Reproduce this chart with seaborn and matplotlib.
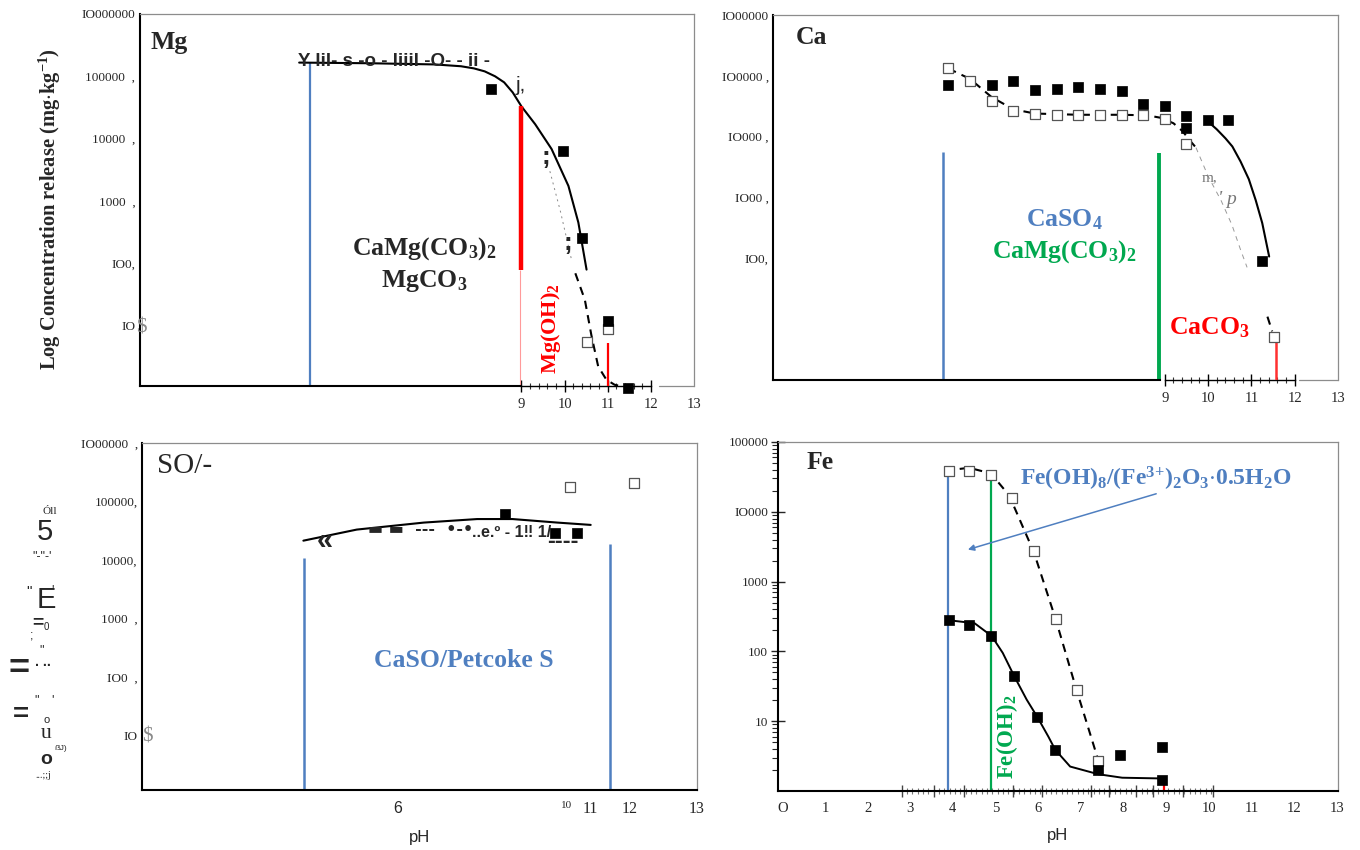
import matplotlib
matplotlib.use("Agg")
import matplotlib.pyplot as plt
import seaborn as sns
from matplotlib.ticker import FixedLocator, NullLocator, LogLocator, NullFormatter

sns.set_style("white")
plt.rcParams['font.family'] = ['Liberation Serif', 'DejaVu Serif']
plt.rcParams['mathtext.fontset'] = 'custom'
plt.rcParams['mathtext.rm'] = 'Liberation Serif'
plt.rcParams['mathtext.bf'] = 'Liberation Serif:bold'
plt.rcParams['mathtext.default'] = 'regular'

BLUE = '#4f7fc0'
GREEN = '#00a84f'
RED = '#ff0000'
GRAYLINE = '#8c8c8c'

# ------------------------------------------------------------------ data
# Mg
mg_filled_ph = [8.30, 9.97, 10.41, 11.0, 11.47]
mg_filled_c = [62000, 6300, 250, 12, 1.0]
mg_open_ph = [10.51, 11.0]
mg_open_c = [5.5, 8.8]
mg_fit_ph = [3.85, 5.5, 7.0, 7.6, 7.9, 8.15, 8.39, 8.6, 8.8, 9.0, 9.32, 9.70, 10.09, 10.32, 10.51]
mg_fit_c = [166000, 162000, 155000, 145000, 134000, 120000, 100000, 80000, 55000, 33000, 17000, 6800, 1740, 450, 79]
mg_dash_ph = [10.25, 10.47, 10.62, 10.78, 10.97, 11.16, 11.35]
mg_dash_c = [69, 26, 7.1, 2.2, 1.35, 1.12, 1.05]
mg_gray_ph = [9.66, 9.9, 10.16]
mg_gray_c = [3000, 700, 115]
mg_blue_line = (4.10, 162000)
mg_red_thick = (9.0, 79, 33000)
mg_red_thin = (11.0, 1.0, 5.2)

# Ca
ca_filled_ph = [4.0, 5.0, 5.5, 6.0, 6.5, 7.0, 7.5, 8.0, 8.5, 9.0, 9.5, 9.5, 10.0, 10.45, 11.25]
ca_filled_c = [72000, 71000, 83000, 59000, 60000, 65000, 60000, 56000, 34000, 32000, 22000, 14000, 18600, 18600, 89]
ca_open_ph = [4.0, 4.5, 5.0, 5.5, 6.0, 6.5, 7.0, 7.5, 8.0, 8.5, 9.0, 9.5, 11.52]
ca_open_c = [132000, 83000, 39000, 26300, 23400, 22900, 22900, 22900, 22900, 22900, 19500, 7600, 5.0]
ca_dash_ph = [4.0, 4.5, 5.0, 5.5, 6.0, 7.0, 8.0, 8.6, 8.91, 9.2, 9.41, 9.6, 9.72]
ca_dash_c = [132000, 89000, 44700, 28200, 24000, 22900, 22900, 22400, 20400, 16600, 12300, 8300, 6600]
ca_gray_ph = [9.72, 10.0, 10.3, 10.55, 10.75, 10.9]
ca_gray_c = [6600, 2240, 890, 355, 138, 71]
ca_dash2_ph = [11.37, 11.48]
ca_dash2_c = [11.0, 6.3]
ca_fit_ph = [9.98, 10.2, 10.4, 10.56, 10.75, 10.94, 11.1, 11.25, 11.41]
ca_fit_c = [18200, 13200, 9400, 6900, 3900, 2000, 900, 380, 107]
ca_blue_line = (3.88, 5500)
ca_green_line = (8.86, 5400)
ca_red_line = (11.56, 1.0, 4.3)

# SO4
so4_filled_ph = [8.51, 9.68, 10.18]
so4_filled_c = [60000, 29500, 29500]
so4_open_ph = [10.02, 11.52]
so4_open_c = [174000, 210000]
so4_fit_ph = [3.78, 5.03, 6.6, 7.85, 8.68, 9.73, 10.51]
so4_fit_c = [21400, 33100, 43600, 50100, 50100, 43600, 39800]
so4_blue_lines = [(3.80, 10700), (10.96, 19000)]

# Fe
fe_filled_ph = [3.9, 4.38, 4.89, 5.44, 5.98, 6.4, 7.41, 7.91, 8.91, 8.91]
fe_filled_c = [280, 236, 166, 44, 11.5, 3.9, 2.0, 3.3, 4.3, 1.44]
fe_open_ph = [3.9, 4.38, 4.89, 5.39, 5.9, 6.41, 6.9, 7.41]
fe_open_c = [39000, 38000, 33500, 16000, 2700, 290, 28, 2.7]
fe_fit_ph = [3.92, 4.51, 4.91, 5.17, 5.44, 5.73, 5.98, 6.24, 6.40, 6.75, 7.41, 7.97, 8.96]
fe_fit_c = [279, 253, 166, 95, 44, 20.4, 11.5, 6.0, 3.9, 2.24, 1.74, 1.55, 1.51]
fe_dash_ph = [3.82, 4.38, 4.89, 5.32, 5.63, 5.90, 6.41, 6.90, 7.41]
fe_dash_c = [38900, 42700, 35500, 17200, 6300, 2630, 290, 28, 2.75]
fe_blue_line = (3.89, 39000)
fe_green_line = (4.89, 29500)
fe_red_line = (8.96, 1.0, 1.35)
fe_arrow = ((8.83, 18600), (4.29, 2800))

# tick labels
mg_ytick_labels = ["IO000000", "100000  ,", "10000  ,", "1000  ,", "IO0,", "IO"]
ca_ytick_labels = ["IO00000", "IO0000 ,", "IO000 ,", "IO00 ,", "IO0,"]
so4_ytick_labels = ["IO00000  ,", "100000,", "10000,", "1000  ,", "IO0  ,", "IO"]
fe_ytick_labels = ["100000", "IO000", "1000", "100", "10"]
top_xtick_labels = ["9", "10", "11", "12", "13"]
so4_xtick_pos = [6, 9.95, 10.5, 11.42, 13]
so4_xtick_labels = ["6", "10", "11", "12", "13"]
fe_xtick_labels = ["O", "1", "2", "3", "4", "5", "6", "7", "8", "9", "10", "11", "12", "13"]

# ------------------------------------------------------------------ layout helpers
fig = plt.figure(figsize=(13.6, 8.5), dpi=100)


def px_axes(l, t, r, b):
    return fig.add_axes([l / 1360, 1 - b / 850, (r - l) / 1360, (b - t) / 850])


def frame(ax):
    for s in ['top', 'right']:
        ax.spines[s].set_color(GRAYLINE)
        ax.spines[s].set_linewidth(0.9)
    for s in ['left', 'bottom']:
        ax.spines[s].set_color('black')
        ax.spines[s].set_linewidth(1.5)
    ax.grid(False)
    ax.set_facecolor('white')


def ylabels(ax, vals, labels, fs=9.5):
    ax.yaxis.set_major_locator(FixedLocator(vals))
    ax.set_yticklabels(labels, fontsize=fs)
    ax.yaxis.set_minor_locator(NullLocator())
    ax.tick_params(axis='y', length=0, pad=3)


def filled(ax, x, y, s=52):
    sns.scatterplot(x=x, y=y, ax=ax, marker='s', s=s, color='black',
                    edgecolor='black', linewidth=0.5, zorder=5, clip_on=False)


def opened(ax, x, y, s=50):
    sns.scatterplot(x=x, y=y, ax=ax, marker='s', s=s, color='white',
                    edgecolor='#555555', linewidth=0.9, zorder=4, clip_on=False)


def line(ax, x, y, **kw):
    sns.lineplot(x=x, y=y, ax=ax, estimator=None, sort=False, **kw)


def tick_axis(ax, lo, hi, step):
    sec = ax.secondary_xaxis('bottom')
    sec.spines['bottom'].set_bounds(lo, hi)
    sec.spines['bottom'].set_linewidth(1.0)
    sec.spines['bottom'].set_color('black')
    majors = list(range(int(lo), int(hi) + 1))
    sec.set_xticks(majors)
    sec.set_xticklabels([''] * len(majors))
    n = int(round((hi - lo) / step))
    sec.xaxis.set_minor_locator(FixedLocator([lo + i * step for i in range(n + 1)]))
    sec.tick_params(which='major', direction='inout', length=9, width=1.0, color='black')
    sec.tick_params(which='minor', direction='inout', length=5, width=0.8, color='#333333')
    return sec


LOG10 = [10, 100, 1000, 10000, 100000, 1000000]
BIG = 18.5

# ------------------------------------------------------------------ Mg
ax = px_axes(139.5, 14, 694, 386)
ax.set_yscale('log')
ax.set_xlim(0.15, 12.95)
ax.set_ylim(1.07, 1e6)
frame(ax)
ax.spines['bottom'].set_bounds(0.15, 9.0)
ylabels(ax, LOG10[::-1], mg_ytick_labels)
ax.set_xticks([9, 10, 11, 12, 13])
ax.set_xticklabels(top_xtick_labels, fontsize=10.5)
ax.tick_params(axis='x', length=0, pad=9)
tick_axis(ax, 9, 12, 0.2)
ax.axhline(1.07, xmin=(12.15 - 0.15) / 12.8, xmax=1, color=GRAYLINE, lw=0.9, clip_on=False)

ax.vlines(mg_blue_line[0], 1.07, mg_blue_line[1], color=BLUE, lw=1.6)
ax.vlines(mg_red_thick[0], mg_red_thick[1], mg_red_thick[2], color=RED, lw=3.2, zorder=3)
ax.vlines(mg_red_thick[0] - 0.03, 1.07, mg_red_thick[1], color='#ff9a9a', lw=0.8)
ax.vlines(mg_red_thin[0], mg_red_thin[1], mg_red_thin[2], color=RED, lw=1.6)
line(ax, mg_fit_ph, mg_fit_c, color='black', lw=1.5)
line(ax, mg_dash_ph, mg_dash_c, color='black', lw=1.5, linestyle=(0, (4, 3)))
line(ax, mg_gray_ph, mg_gray_c, color='#888888', lw=0.7, linestyle=(0, (2, 4)))
filled(ax, mg_filled_ph, mg_filled_c)
opened(ax, mg_open_ph, mg_open_c)

ax.text(0.40, 10 ** 5.55, "Mg", fontsize=BIG, fontweight='bold', va='center', ha='left')
ax.text(3.82, 10 ** 5.245, "Y lil- s -o - liiil -O- - ii -", fontsize=13.5, fontweight='bold',
        family='Liberation Sans', va='center', ha='left', zorder=6)
ax.text(8.86, 10 ** 4.86, "j,", fontsize=15, family='Liberation Sans', va='center', ha='left')
ax.text(9.58, 10 ** 3.7, ";", fontsize=19, fontweight='bold', family='Liberation Sans', va='center', ha='center')
ax.text(10.07, 10 ** 2.33, ";", fontsize=19, fontweight='bold', family='Liberation Sans', va='center', ha='center')
ax.text(6.74, 10 ** 2.24, r"CaMg(CO$_3$)$_2$", fontsize=BIG, fontweight='bold', ha='center', va='center')
ax.text(6.74, 10 ** 1.72, r"MgCO$_3$", fontsize=BIG, fontweight='bold', ha='center', va='center')
ax.text(9.69, 10 ** 0.95, r"Mg(OH)$_2$", fontsize=16, fontweight='bold', color=RED,
        rotation=90, ha='center', va='center')
ax.text(0.2, 10 ** 0.96, "\\$", fontsize=15, color='#8a8a8a', ha='center', va='center')

fig.text(50 / 1360, 1 - 209 / 850, r"Log Concentration release (mg$\cdot$kg$^{-1}$)",
         rotation=90, fontsize=14.8, fontweight='bold', ha='center', va='center')

# ------------------------------------------------------------------ Ca
ax = px_axes(773, 15, 1338, 380)
ax.set_yscale('log')
ax.set_xlim(-0.05, 13)
ax.set_ylim(1, 1e6)
frame(ax)
ax.spines['bottom'].set_bounds(-0.05, 8.88)
ylabels(ax, LOG10[1:][::-1], ca_ytick_labels)
ax.set_xticks([9, 10, 11, 12, 13])
ax.set_xticklabels(top_xtick_labels, fontsize=10.5)
ax.tick_params(axis='x', length=0, pad=9)
tick_axis(ax, 9, 12, 0.2)
ax.axhline(1, xmin=(12.1 + 0.05) / 13.05, xmax=1, color=GRAYLINE, lw=0.9, clip_on=False)

ax.vlines(ca_blue_line[0], 1, ca_blue_line[1], color=BLUE, lw=1.8)
ax.vlines(ca_green_line[0], 1, ca_green_line[1], color=GREEN, lw=2.8)
ax.vlines(ca_red_line[0], ca_red_line[1], ca_red_line[2], color='#ff3030', lw=1.8)
line(ax, ca_dash_ph, ca_dash_c, color='black', lw=1.5, linestyle=(0, (4, 3)))
line(ax, ca_gray_ph, ca_gray_c, color='#999999', lw=0.7, linestyle=(0, (5, 5)))
line(ax, ca_dash2_ph, ca_dash2_c, color='black', lw=1.5, linestyle=(0, (4, 3)))
line(ax, ca_fit_ph, ca_fit_c, color='black', lw=1.5)
opened(ax, ca_open_ph, ca_open_c)
filled(ax, ca_filled_ph, ca_filled_c)

ax.text(0.47, 10 ** 5.63, "Ca", fontsize=BIG, fontweight='bold', va='center', ha='left')
ax.text(6.69, 10 ** 2.64, r"CaSO$_4$", fontsize=BIG, fontweight='bold', color=BLUE, ha='center', va='center')
ax.text(6.69, 10 ** 2.11, r"CaMg(CO$_3$)$_2$", fontsize=BIG, fontweight='bold', color=GREEN,
        ha='center', va='center')
ax.text(10.02, 10 ** 0.86, r"CaCO$_3$", fontsize=BIG, fontweight='bold', color=RED, ha='center', va='center')
ax.text(10.04, 10 ** 3.32, "m,", fontsize=11, color='#777777', ha='center', va='center')
ax.text(10.45, 10 ** 2.97, "' p", fontsize=14, color='#777777', style='italic', ha='center', va='center')

# ------------------------------------------------------------------ SO4
ax = px_axes(142, 443, 697, 790)
ax.set_yscale('log')
ax.set_xlim(0, 13)
ax.set_ylim(1.17, 1e6)
frame(ax)
ylabels(ax, LOG10[::-1], so4_ytick_labels)
ax.set_xticks(so4_xtick_pos)
ax.set_xticklabels(so4_xtick_labels, fontsize=11.5)
for t in ax.get_xticklabels():
    if t.get_text() == "10":
        t.set_fontsize(8)
    if t.get_text() == "6":
        t.set_family('Liberation Sans')
ax.tick_params(axis='x', length=0, pad=8)
ax.set_xlabel("pH", fontsize=12, family='Liberation Sans', labelpad=9)

for xv, top in so4_blue_lines:
    ax.vlines(xv, 1.17, top, color=BLUE, lw=1.8)
line(ax, so4_fit_ph, so4_fit_c, color='black', lw=1.5)
filled(ax, so4_filled_ph, so4_filled_c)
opened(ax, so4_open_ph, so4_open_c, s=46)

ax.text(0.35, 10 ** 5.6, "SO/-", fontsize=21, va='center', ha='left')
ax.text(7.54, 10 ** 2.29, "CaSO/Petcoke S", fontsize=BIG, fontweight='bold', color=BLUE, ha='center', va='center')
ax.text(4.1, 10 ** 4.33, "«", fontsize=21, family='Liberation Sans', fontweight='bold', ha='left', va='center')
ax.text(5.29, 10 ** 4.52, "▬ ▬  ---  •-•", fontsize=11.5, family='DejaVu Sans', fontweight='bold',
        ha='left', va='center')
ax.text(7.72, 10 ** 4.47, "..e.º - 1‼ 1/", fontsize=11.5, family='Liberation Sans', fontweight='bold',
        ha='left', va='center')
ax.text(9.5, 10 ** 4.31, "----", fontsize=17, family='Liberation Sans', fontweight='bold', ha='left', va='center')
ax.text(0.0, 10 ** 0.98, "\\$", fontsize=15, color='#8a8a8a', ha='left', va='center')

# OCR fragments on the left of the SO4 panel
frags = [
    ("Óll", 50, 511, 8, 'Liberation Serif', 'normal'),
    ("5", 45, 532, 21, 'Liberation Sans', 'normal'),
    ("\"-\"-'", 42, 556, 9, 'Liberation Sans', 'normal'),
    ("\"", 29, 592, 11, 'Liberation Sans', 'normal'),
    ("E", 46, 600, 21, 'Liberation Sans', 'normal'),
    ("'", 53, 590, 9, 'Liberation Sans', 'normal'),
    ("=", 38, 623, 14, 'Liberation Sans', 'bold'),
    ("0", 46, 627, 7, 'Liberation Sans', 'normal'),
    (";", 32, 636, 9, 'Liberation Sans', 'normal'),
    ("\"", 42, 650, 9, 'Liberation Sans', 'normal'),
    (". ..", 43, 662, 10, 'Liberation Sans', 'bold'),
    ("=", 19, 670, 26, 'Liberation Sans', 'bold'),
    ("=", 21, 715, 20, 'Liberation Sans', 'bold'),
    ("\"", 37, 700, 9, 'Liberation Sans', 'normal'),
    ("'", 53, 700, 9, 'Liberation Sans', 'normal'),
    ("o", 47, 720, 8, 'Liberation Sans', 'normal'),
    ("u", 46, 733, 15.5, 'Liberation Serif', 'normal'),
    ("ẞJ)", 61, 748, 6, 'Liberation Sans', 'normal'),
    ("o", 46, 760, 14, 'Liberation Sans', 'bold'),
    ("...;;j", 43, 776, 7, 'Liberation Serif', 'normal'),
]
for txt, xp, yp, fs, fam, fw in frags:
    fig.text(xp / 1360, 1 - yp / 850, txt, fontsize=fs, family=fam, fontweight=fw,
             ha='center', va='center')

# ------------------------------------------------------------------ Fe
ax = px_axes(778, 442, 1338, 791)
ax.set_yscale('log')
ax.set_xlim(-0.1, 13.03)
ax.set_ylim(1, 1e5)
frame(ax)
ax.yaxis.set_major_locator(FixedLocator(LOG10[:5][::-1]))
ax.set_yticklabels(fe_ytick_labels, fontsize=9.5)
ax.yaxis.set_minor_locator(LogLocator(base=10, subs=[2, 3, 4, 5, 6, 7, 8, 9]))
ax.yaxis.set_minor_formatter(NullFormatter())
ax.tick_params(axis='y', which='major', direction='inout', length=10, width=1.0, pad=2, left=True)
ax.tick_params(axis='y', which='minor', direction='out', length=4, width=0.8, left=True)
ax.set_xticks(list(range(14)))
ax.set_xticklabels(fe_xtick_labels, fontsize=10.5)
ax.tick_params(axis='x', length=0, pad=8)
ax.set_xlabel("pH", fontsize=12, family='Liberation Sans', labelpad=9)
sec = ax.secondary_xaxis('bottom')
sec.spines['bottom'].set_visible(False)
fe_major_ticks = [2.8, 3.55, 4.25, 5.4, 6.1, 7.25, 7.65, 8.3, 8.7, 9.4, 10.1]
sec.set_xticks(fe_major_ticks)
sec.set_xticklabels([''] * len(fe_major_ticks))
sec.xaxis.set_minor_locator(FixedLocator([2.8 + 0.125 * i for i in range(59)]))
sec.tick_params(which='major', direction='inout', length=9, width=1.0, color='#444444')
sec.tick_params(which='minor', direction='inout', length=5, width=0.8, color='#777777')

ax.vlines(fe_blue_line[0], 1, fe_blue_line[1], color=BLUE, lw=1.6)
ax.vlines(fe_green_line[0], 1, fe_green_line[1], color=GREEN, lw=1.6)
ax.vlines(fe_red_line[0], fe_red_line[1], fe_red_line[2], color=RED, lw=1.6)
line(ax, fe_dash_ph, fe_dash_c, color='black', lw=1.5, linestyle=(0, (4, 3)))
line(ax, fe_fit_ph, fe_fit_c, color='black', lw=1.4)
opened(ax, fe_open_ph, fe_open_c, s=48)
filled(ax, fe_filled_ph, fe_filled_c)
ax.annotate("", xy=fe_arrow[1], xytext=fe_arrow[0],
            arrowprops=dict(arrowstyle='-|>', color=BLUE, lw=1.1, mutation_scale=9))

ax.text(0.57, 10 ** 4.71, "Fe", fontsize=BIG, fontweight='bold', va='center', ha='left')
ax.text(5.57, 10 ** 4.47, r"Fe(OH)$_8$/(Fe$^{3{+}}$)$_2$O$_3$$\cdot$0.5H$_2$O", fontsize=17,
        fontweight='bold', color=BLUE, ha='left', va='center')
ax.text(5.28, 10 ** 0.78, r"Fe(OH)$_2$", fontsize=16.5, fontweight='bold', color=GREEN,
        rotation=90, ha='center', va='center')

fig.savefig("out.png", dpi=100, facecolor='white')
